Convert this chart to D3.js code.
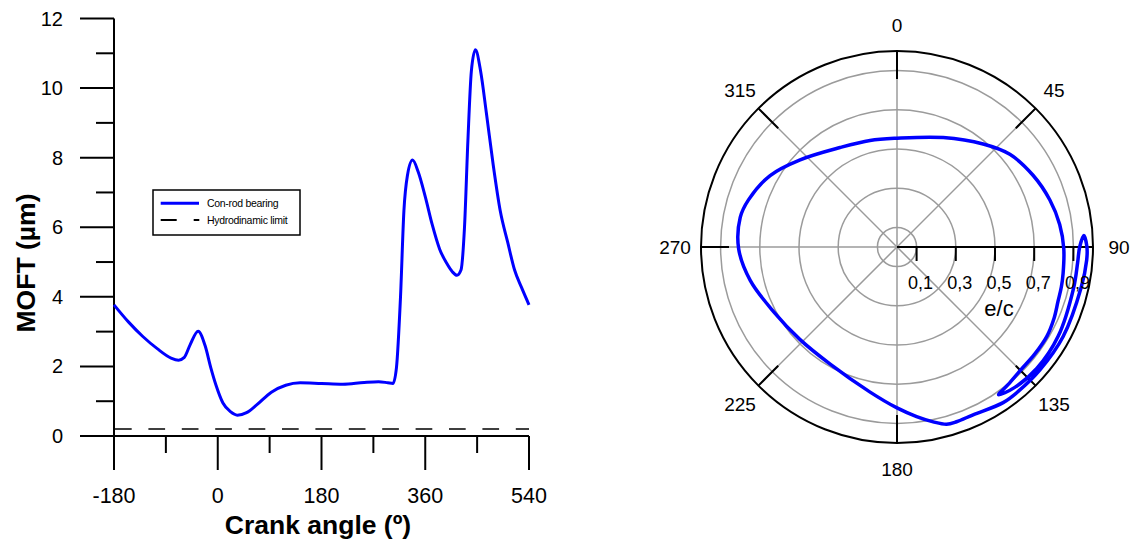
<!DOCTYPE html>
<html>
<head>
<meta charset="utf-8">
<script src="https://cdn.jsdelivr.net/npm/d3@7"></script>
<style>
  body { margin: 0; background: #fff; }
  svg { display: block; }
  text { font-family: "Liberation Sans", Arial, sans-serif; fill: #000; }
</style>
</head>
<body>
<svg id="chart" width="1139" height="549"></svg>
<script>
// ---- Minimum oil film thickness over the cycle ----
const crankAngle = [-180, -155, -130, -105, -81, -68, -58, -48, -34, -22, -12, -3, 9, 22, 34, 50, 68, 93, 118, 143, 180,
  217, 254, 279, 295, 304, 310, 317, 323, 329, 338, 348, 360, 372, 385, 397, 407, 415, 422, 428, 434,
  440, 447, 456, 466, 478, 490, 503, 515, 527, 540];
const moft = [3.77, 3.28, 2.86, 2.51, 2.24, 2.18, 2.26, 2.62, 3.01, 2.60, 1.96, 1.46, 0.95, 0.70, 0.60, 0.67, 0.90, 1.26, 1.46, 1.53, 1.51,
  1.49, 1.54, 1.56, 1.53, 1.51, 1.96, 3.97, 6.48, 7.48, 7.93, 7.58, 6.88, 6.08, 5.37, 4.97, 4.72, 4.62, 4.77, 5.97, 8.49,
  10.49, 11.10, 10.49, 9.29, 7.78, 6.48, 5.57, 4.77, 4.27, 3.77];
const hydroLimit = 0.2;
const xTicksMajor = [-180, 0, 180, 360, 540];
const xTicksMinor = [-90, 90, 270, 450];
const yTicksMajor = [0, 2, 4, 6, 8, 10, 12];
const yTicksMinor = [1, 3, 5, 7, 9, 11];
const legendLabels = ["Con-rod bearing", "Hydrodinamic limit"];

// ---- Journal orbit (eccentricity ratio vs. angle) ----
const orbitAngle = [0, 22.9, 39.9, 50.6, 62.3, 72.9, 82.1, 90.6, 99, 103.7, 108.6, 114.4, 120.7, 128, 135, 141, 145.5,
  140, 131, 119, 103, 95, 90, 86.5, 90, 94, 102.4, 118.4, 130.8, 140, 145.7, 155.6, 161.2, 164.4, 168.3, 173.4,
  180, 190.5, 209.7, 226.3, 242.4, 257.2, 269.4, 280.7, 287.6, 299.4, 312, 330.2, 345.8];
const orbitEcc = [0.555, 0.606, 0.685, 0.745, 0.785, 0.816, 0.838, 0.851, 0.858, 0.863, 0.867, 0.880, 0.890, 0.890, 0.890, 0.902, 0.915,
  0.935, 0.945, 0.940, 0.925, 0.925, 0.932, 0.955, 0.969, 0.970, 0.962, 0.963, 0.962, 0.962, 0.961, 0.940, 0.942, 0.939, 0.911, 0.871,
  0.821, 0.753, 0.688, 0.684, 0.711, 0.768, 0.808, 0.814, 0.795, 0.743, 0.665, 0.585, 0.561];
const ringValues = [0.1, 0.3, 0.5, 0.7, 0.9];
const ringLabels = ["0,1", "0,3", "0,5", "0,7", "0,9"];
const spokeAngles = [0, 45, 90, 135, 180, 225, 270, 315];

const svg = d3.select("#chart");

// =================== Line chart ===================
const x = d3.scaleLinear().domain([-180, 540]).range([114, 529]);
const y = d3.scaleLinear().domain([0, 12]).range([436, 18.5]);

const left = svg.append("g");

// y axis line + ticks (ticks point outward to the left)
left.append("line").attr("x1", x(-180)).attr("x2", x(-180)).attr("y1", y(0)).attr("y2", y(12))
  .attr("stroke", "#000").attr("stroke-width", 2);
left.selectAll(".ytM").data(yTicksMajor).join("line")
  .attr("x1", x(-180) - 34).attr("x2", x(-180)).attr("y1", d => y(d)).attr("y2", d => y(d))
  .attr("stroke", "#000").attr("stroke-width", 2);
left.selectAll(".ytm").data(yTicksMinor).join("line")
  .attr("x1", x(-180) - 18).attr("x2", x(-180)).attr("y1", d => y(d)).attr("y2", d => y(d))
  .attr("stroke", "#000").attr("stroke-width", 2);
left.selectAll(".ytl").data(yTicksMajor).join("text")
  .attr("x", x(-180) - 51).attr("y", d => y(d) + 7)
  .attr("text-anchor", "end").attr("font-size", 20).text(d => d);

// x axis line + ticks (downward)
left.append("line").attr("x1", x(-180)).attr("x2", x(540)).attr("y1", y(0)).attr("y2", y(0))
  .attr("stroke", "#000").attr("stroke-width", 2);
left.selectAll(".xtM").data(xTicksMajor).join("line")
  .attr("x1", d => x(d)).attr("x2", d => x(d)).attr("y1", y(0)).attr("y2", y(0) + 34)
  .attr("stroke", "#000").attr("stroke-width", 2);
left.selectAll(".xtm").data(xTicksMinor).join("line")
  .attr("x1", d => x(d)).attr("x2", d => x(d)).attr("y1", y(0)).attr("y2", y(0) + 17)
  .attr("stroke", "#000").attr("stroke-width", 2);
left.selectAll(".xtl").data(xTicksMajor).join("text")
  .attr("x", d => x(d)).attr("y", y(0) + 67)
  .attr("text-anchor", "middle").attr("font-size", 21.5).text(d => d);

// axis titles
left.append("text").attr("x", 318).attr("y", 534).attr("text-anchor", "middle")
  .attr("font-size", 26.5).attr("font-weight", "bold").text("Crank angle (º)");
left.append("text").attr("transform", "translate(35,263) rotate(-90)").attr("text-anchor", "middle")
  .attr("font-size", 26.5).attr("font-weight", "bold").text("MOFT (µm)");

// hydrodynamic limit
left.append("line").attr("x1", x(-180) + 1).attr("x2", x(540)).attr("y1", y(hydroLimit)).attr("y2", y(hydroLimit))
  .attr("stroke", "#000").attr("stroke-width", 1.6).attr("stroke-dasharray", "16.7,16.7");

// MOFT curve
const moftLine = d3.line()
  .x((d, i) => x(crankAngle[i]))
  .y(d => y(d))
  .curve(d3.curveMonotoneX);
left.append("path").datum(moft).attr("d", moftLine)
  .attr("fill", "none").attr("stroke", "#0000ff").attr("stroke-width", 3).attr("stroke-linejoin", "round");

// legend
const lg = left.append("g").attr("transform", "translate(153,190)");
lg.append("rect").attr("width", 147).attr("height", 45).attr("fill", "#fff").attr("stroke", "#000").attr("stroke-width", 1.5);
lg.append("line").attr("x1", 7.7).attr("x2", 46).attr("y1", 13.3).attr("y2", 13.3)
  .attr("stroke", "#0000ff").attr("stroke-width", 3);
lg.append("line").attr("x1", 7.7).attr("x2", 46.3).attr("y1", 30).attr("y2", 30)
  .attr("stroke", "#000").attr("stroke-width", 2).attr("stroke-dasharray", "16,17");
lg.selectAll(".lgt").data(legendLabels).join("text")
  .attr("x", 54).attr("y", (d, i) => 17 + i * 16.7)
  .attr("font-size", 10.5).attr("letter-spacing", -0.3).text(d => d);

// =================== Polar orbit ===================
const cx = 897, cy = 247, R = 196;
const r = d3.scaleLinear().domain([0, 1]).range([0, R]);
const rad = d => d * Math.PI / 180;
const pol = svg.append("g").attr("transform", `translate(${cx},${cy})`);

// grid rings
pol.selectAll(".ring").data(ringValues).join("circle")
  .attr("r", d => r(d)).attr("fill", "none").attr("stroke", "#9b9b9b").attr("stroke-width", 1.5);
// grid spokes
pol.selectAll(".spoke").data(spokeAngles).join("line")
  .attr("x1", 0).attr("y1", 0)
  .attr("x2", d => r(1) * Math.sin(rad(d))).attr("y2", d => -r(1) * Math.cos(rad(d)))
  .attr("stroke", "#9b9b9b").attr("stroke-width", 1.5);
// angular ticks on the rim
pol.selectAll(".atick").data(spokeAngles).join("line")
  .attr("x1", d => (R - 28) * Math.sin(rad(d))).attr("y1", d => -(R - 28) * Math.cos(rad(d)))
  .attr("x2", d => R * Math.sin(rad(d))).attr("y2", d => -R * Math.cos(rad(d)))
  .attr("stroke", "#000").attr("stroke-width", 2);
// radial axis along 90°
pol.append("line").attr("x1", 0).attr("y1", 0).attr("x2", r(1)).attr("y2", 0)
  .attr("stroke", "#000").attr("stroke-width", 2);
pol.selectAll(".rtick").data(ringValues).join("line")
  .attr("x1", d => r(d)).attr("x2", d => r(d)).attr("y1", 0).attr("y2", 14)
  .attr("stroke", "#000").attr("stroke-width", 2);
// outer rim
pol.append("circle").attr("r", r(1)).attr("fill", "none").attr("stroke", "#000").attr("stroke-width", 2);

// orbit
const orbitIdx = d3.range(orbitAngle.length);
const orbitLine = d3.lineRadial()
  .angle(i => rad(orbitAngle[i]))
  .radius(i => r(orbitEcc[i]))
  .curve(d3.curveCatmullRomClosed.alpha(0.5));
pol.append("path").datum(orbitIdx).attr("d", orbitLine)
  .attr("fill", "none").attr("stroke", "#0000ff").attr("stroke-width", 3.5).attr("stroke-linejoin", "round");

// radial labels
pol.selectAll(".rlab").data(ringValues).join("text")
  .attr("x", d => r(d) + 4).attr("y", 42)
  .attr("text-anchor", "middle").attr("font-size", 18).text((d, i) => ringLabels[i]);
pol.append("text").attr("x", 102).attr("y", 69).attr("text-anchor", "middle")
  .attr("font-size", 22).text("e/c");

// angle labels
pol.selectAll(".alab").data(spokeAngles).join("text")
  .attr("x", d => 222 * Math.sin(rad(d)))
  .attr("y", d => -222 * Math.cos(rad(d)) + 7)
  .attr("text-anchor", "middle").attr("font-size", 19).text(d => d);
</script>
</body>
</html>
